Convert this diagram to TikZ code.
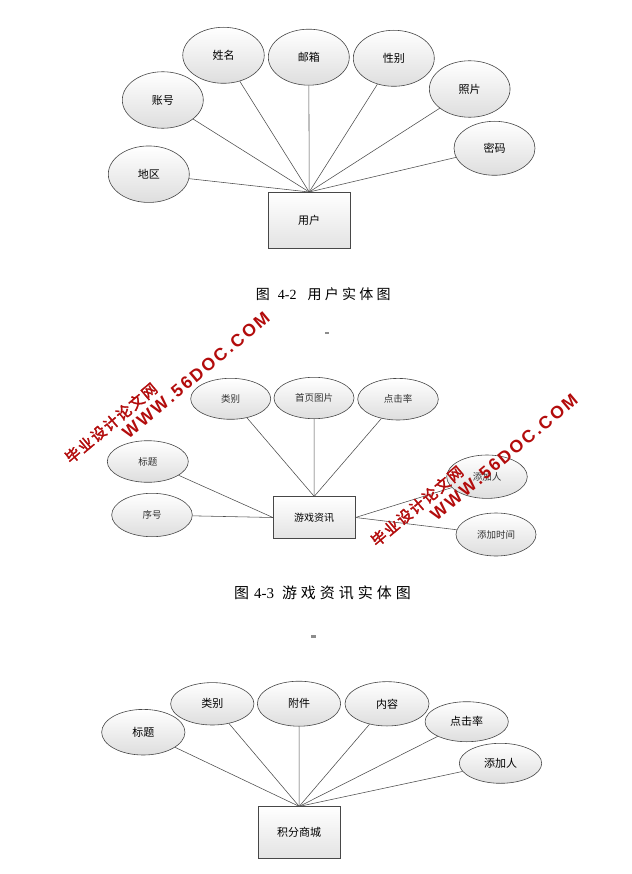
\documentclass[tikz,border=0pt]{standalone}
\usepackage{fontspec}
\setmainfont{Liberation Serif}
\newfontfamily\cjk{Noto Sans CJK SC}
\newfontfamily\wmcjk{Noto Sans CJK SC}[AutoFakeBold=2.5]
\newfontfamily\wmlat{Liberation Sans}
\usetikzlibrary{shapes.geometric}
\definecolor{wmred}{HTML}{B30C0C}
\newcommand\wk{\kern2.3pt}
\newcommand\wkc{\kern1.6pt}
\newcommand\cka{\kern3.3pt}
\newcommand\ckb{\kern4pt}
\tikzset{
  attr/.style={ellipse, draw=black!72, line width=0.6pt, top color=white, bottom color=black!13,
    inner sep=0pt, font=\cjk\fontsize{11}{11}\selectfont},
  attrsm/.style={attr, font=\cjk\fontsize{9.5}{9.5}\selectfont, text=black!80},
  ent/.style={rectangle, draw=black!72, line width=0.6pt, top color=white, bottom color=black!11,
    inner sep=0pt, font=\cjk\fontsize{11}{11}\selectfont},
  link/.style={draw=black!70, line width=0.55pt},
  captext/.style={inner sep=0pt},
  wmark/.style={text=wmred, inner sep=0pt, rotate=40},
  tick/.style={fill=black!45, draw=none}
}
\begin{document}
\begin{tikzpicture}[x=1pt,y=-1pt]
\useasboundingbox (0,0) rectangle (631,874);
\fill[white] (0,0) rectangle (631,874);

% ---------- Figure 4-2 ----------
\node[ent, minimum width=81.7pt, minimum height=56pt] (u) at (309.2,220.3) {用户};
\node[attr, minimum width=81pt, minimum height=56.5pt] (u1) at (148.8,174.2) {地区};
\node[attr, minimum width=81pt, minimum height=56.5pt] (u2) at (162.8,100) {账号};
\node[attr, minimum width=81.5pt, minimum height=56pt] (u3) at (223.5,55.3) {姓名};
\node[attr, minimum width=81pt, minimum height=56pt] (u4) at (308.8,57.2) {邮箱};
\node[attr, minimum width=81pt, minimum height=56pt] (u5) at (393.8,58.3) {性别};
\node[attr, minimum width=80.7pt, minimum height=56.5pt] (u6) at (469.7,89) {照片};
\node[attr, minimum width=81pt, minimum height=54pt] (u7) at (494.5,148.3) {密码};
\foreach \i in {1,...,7} \draw[link] (u\i) -- (u.north);
\node[captext, font=\fontsize{14}{14}\selectfont] (c1) at (323.3,294)
  {{\cjk 图}\hspace{8pt}4-2\hspace{11pt}{\cjk 用\cka 户\cka 实\cka 体\cka 图}};
\fill[tick] (325,332.3) rectangle (329.3,334.3);

% ---------- Figure 4-3 ----------
\node[ent, minimum width=82pt, minimum height=41.6pt, font=\cjk\fontsize{10}{10}\selectfont] (g) at (314.2,517.5) {游戏资讯};
\node[attrsm, minimum width=80pt, minimum height=41pt] (g1) at (230.7,398.8) {类别};
\node[attrsm, minimum width=80pt, minimum height=41.4pt] (g2) at (314,398) {首页图片};
\node[attrsm, minimum width=80.6pt, minimum height=41.6pt] (g3) at (398,399.2) {点击率};
\node[attrsm, minimum width=81pt, minimum height=41.6pt] (g4) at (147.8,461.5) {标题};
\node[attrsm, minimum width=80.6pt, minimum height=43.4pt] (g5) at (152,515) {序号};
\node[attrsm, minimum width=80.6pt, minimum height=43.4pt] (g6) at (487,476.7) {添加人};
\node[attrsm, minimum width=80pt, minimum height=43pt] (g7) at (496,534.5) {添加时间};
\foreach \i in {1,2,3} \draw[link] (g\i) -- (g.north);
\draw[link] (g4) -- (g.west);
\draw[link] (g5) -- (g.west);
\draw[link] (g6) -- (g.east);
\draw[link] (g7) -- (g.east);
\node[captext, font=\fontsize{15}{15}\selectfont] (c2) at (322.5,592.5)
  {{\cjk 图}\hspace{5pt}4-3\hspace{8pt}{\cjk 游\ckb 戏\ckb 资\ckb 讯\ckb 实\ckb 体\ckb 图}};
\fill[tick] (311,635.3) rectangle (315.7,638);

% ---------- Figure 4-4 (points mall) ----------
\node[ent, minimum width=81.7pt, minimum height=51.6pt] (m) at (299.2,832.5) {积分商城};
\node[attr, minimum width=83.3pt, minimum height=45.6pt] (m1) at (143.3,732.2) {标题};
\node[attr, minimum width=83.3pt, minimum height=42.4pt] (m2) at (212.3,703.8) {类别};
\node[attr, minimum width=83.3pt, minimum height=45pt] (m3) at (299,703.7) {附件};
\node[attr, minimum width=84pt, minimum height=44.3pt] (m4) at (387,703.8) {内容};
\node[attr, minimum width=83.3pt, minimum height=40pt] (m5) at (466.7,721.7) {点击率};
\node[attr, minimum width=82.4pt, minimum height=40pt] (m6) at (500.5,763.3) {添加人};
\foreach \i in {1,...,6} \draw[link] (m\i) -- (m.north);

% ---------- watermarks ----------
\node[wmark, font=\wmcjk\bfseries\fontsize{15}{15}\selectfont] (w1c) at (111,423)
  {毕\wkc 业\wkc 设\wkc 计\wkc 论\wkc 文\wkc 网};
\node[wmark, font=\wmlat\bfseries\fontsize{17.5}{17.5}\selectfont] (w1l) at (196,375)
  {W\wk W\wk W\wk .\wk 5\wk 6\wk D\wk O\wk C\wk .\wk C\wk O\wk M};
\node[wmark, font=\wmcjk\bfseries\fontsize{15}{15}\selectfont] (w2c) at (417,506)
  {毕\wkc 业\wkc 设\wkc 计\wkc 论\wkc 文\wkc 网};
\node[wmark, font=\wmlat\bfseries\fontsize{17.5}{17.5}\selectfont] (w2l) at (504,457)
  {W\wk W\wk W\wk .\wk 5\wk 6\wk D\wk O\wk C\wk .\wk C\wk O\wk M};
\end{tikzpicture}
\end{document}
